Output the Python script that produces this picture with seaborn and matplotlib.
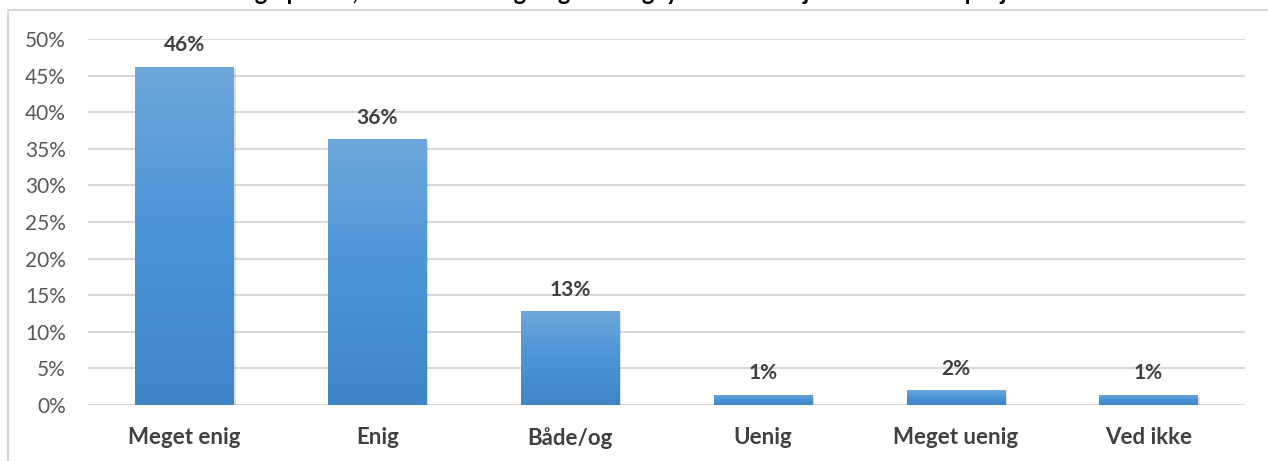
import numpy as np
import pandas as pd
import seaborn as sns
import matplotlib
matplotlib.use('Agg')
import matplotlib.pyplot as plt
from matplotlib.patches import Rectangle
from matplotlib.colors import LinearSegmentedColormap

categories = ['Meget enig', 'Enig', 'Både/og', 'Uenig', 'Meget uenig', 'Ved ikke']
values = [46.2, 36.3, 12.8, 1.4, 2.0, 1.4]
labels = ['46%', '36%', '13%', '1%', '2%', '1%']
yticks = [0, 5, 10, 15, 20, 25, 30, 35, 40, 45, 50]
title = 'Jeg oplever, at undervisningen giver mig lyst til at arbejde videre med projektet'

sns.set_theme(style='white')
plt.rcParams['font.family'] = ['Lato', 'DejaVu Sans']

df = pd.DataFrame({'kategori': categories, 'andel': values})

fig = plt.figure(figsize=(12.68, 4.61), dpi=100)
ax = fig.add_axes([88/1268, 1-405/461, (1245-88)/1268, (405-39)/461])

sns.barplot(data=df, x='kategori', y='andel', color='#5B9BD5', width=0.51, ax=ax,
            zorder=3, linewidth=0)

# gradient fill like excel bars
cmap = LinearSegmentedColormap.from_list('bar', ['#3E85C6', '#4A94D8', '#6EA7DC'])
grad = np.linspace(0, 1, 256).reshape(-1, 1)
for p in ax.patches:
    x0, w, h = p.get_x(), p.get_width(), p.get_height()
    # soft shadow
    ax.add_patch(Rectangle((x0 + 0.01, -0.25), w, h, color='#000000', alpha=0.12,
                           zorder=2, linewidth=0))
    im = ax.imshow(grad, extent=[x0, x0 + w, 0, h], origin='lower', cmap=cmap,
                   aspect='auto', zorder=3.5)
    im.set_clip_path(p)

for i, (v, lab) in enumerate(zip(values, labels)):
    ax.text(i, v + 1.6, lab, ha='center', va='bottom', fontsize=15, fontweight='bold',
            color='#404040')

ax.set_xlim(-0.5, 5.5)
ax.set_ylim(0, 50)
ax.set_yticks(yticks)
ax.set_yticklabels([f'{t}%' for t in yticks], fontsize=15, color='#595959')
ax.set_xticklabels(categories, fontsize=16, fontweight='bold', color='#404040')
ax.tick_params(axis='y', length=0, pad=16)
ax.tick_params(axis='x', length=0, pad=16)
ax.set_xlabel('')
ax.set_ylabel('')
ax.grid(axis='y', color='#D9D9D9', linewidth=1.5, zorder=0)
ax.set_axisbelow(True)
for s in ax.spines.values():
    s.set_visible(False)
ax.axhline(0, color='#D9D9D9', linewidth=1.5, zorder=1)

# chart frame
fig.patches.append(Rectangle((8/1268, -0.05), 1.1, 1 - 10/461 + 0.05, transform=fig.transFigure,
                             fill=False, edgecolor='#D9D9D9', linewidth=1.5))

# title is cut off at the top edge in the original, only descenders show
fig.text(0.51, 1 - 3.5/461, title, ha='center', va='bottom', fontsize=17,
         fontweight='bold', color='#000000')

fig.savefig('out.png', dpi=100)
